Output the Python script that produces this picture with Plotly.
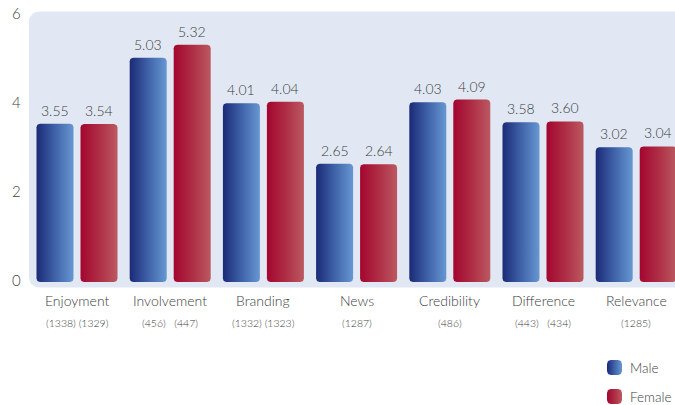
import numpy as np
import plotly.graph_objects as go

# ---- data ----
categories = ["Enjoyment", "Involvement", "Branding", "News", "Credibility", "Difference", "Relevance"]
male = [3.55, 5.03, 4.01, 2.65, 4.03, 3.58, 3.02]
female = [3.54, 5.32, 4.04, 2.64, 4.09, 3.60, 3.04]
sample_sizes = ["(1338) (1329)", "(456)   (447)", "(1332) (1323)", "(1287)", "(486)", "(443)   (434)", "(1285)"]
y_ticks = [0, 2, 4, 6]
series_names = ["Male", "Female"]

# ---- geometry (pixel scale of the full-figure plot area) ----
W, H = 675, 405
PX_X = 93.2          # pixels per category step
X0_PX = 77.0         # pixel of first category centre
PX_Y = 44.6          # pixels per unit on the value axis
Y0_PX = 282.0        # pixel row of value 0

def px_to_x(p):
    return (p - X0_PX) / PX_X

def px_to_y(p):
    return (Y0_PX - p) / PX_Y

x_range = [px_to_x(0), px_to_x(W)]
y_range = [px_to_y(H), px_to_y(0)]

BAR_W = 37 / PX_X
OFFSET = 22 / PX_X
RADIUS_PX = 3.5

GRAD_MALE = [[0, "#1b2a76"], [0.5, "#3f62a8"], [1, "#6797d2"]]
GRAD_FEMALE = [[0, "#a3062f"], [0.5, "#ae2d45"], [1, "#bb5961"]]
TEXT_COLOR = "#3e3e3e"
FONT = "Lato"
WEIGHT = 300


def rounded_rect(x0, x1, y0, y1, r_px):
    """Closed outline of a rectangle with rounded corners, in data units."""
    rx = r_px / PX_X
    ry = r_px / PX_Y
    xs, ys = [], []
    # bottom-left, bottom-right, top-right, top-left corners
    corners = [
        (x0 + rx, y0 + ry, np.pi, 3 * np.pi / 2),
        (x1 - rx, y0 + ry, 3 * np.pi / 2, 2 * np.pi),
        (x1 - rx, y1 - ry, 0, np.pi / 2),
        (x0 + rx, y1 - ry, np.pi / 2, np.pi),
    ]
    for cx, cy, a0, a1 in corners:
        a = np.linspace(a0, a1, 8)
        xs.extend(cx + rx * np.cos(a))
        ys.extend(cy + ry * np.sin(a))
    xs.append(xs[0])
    ys.append(ys[0])
    return xs, ys


def font(size):
    return dict(size=size, color=TEXT_COLOR, family=FONT, weight=WEIGHT)


fig = go.Figure()

# panel background with rounded left corners
bx0, bx1 = px_to_x(29), px_to_x(720)
by0, by1 = px_to_y(287.5), px_to_y(11.5)
bxs, bys = rounded_rect(bx0, bx1, by0, by1, 10)
fig.add_trace(go.Scatter(x=bxs, y=bys, mode="lines", fill="toself",
                         fillcolor="#e1e8f3", line=dict(width=0),
                         hoverinfo="skip", showlegend=False))

annotations = []
for i, cat in enumerate(categories):
    for vals, sign, grad, name in ((male, -1, GRAD_MALE, series_names[0]),
                                   (female, 1, GRAD_FEMALE, series_names[1])):
        v = vals[i]
        xc = i + sign * OFFSET
        xs, ys = rounded_rect(xc - BAR_W / 2, xc + BAR_W / 2, 0, v, RADIUS_PX)
        fig.add_trace(go.Scatter(
            x=xs, y=ys, mode="lines", fill="toself",
            fillgradient=dict(type="horizontal", colorscale=grad),
            line=dict(width=0), name=name, showlegend=False,
            hoverinfo="skip"))
        annotations.append(dict(x=xc, y=v, text=f"{v:.2f}", showarrow=False,
                                yanchor="bottom", yshift=3, font=font(14)))
    annotations.append(dict(x=i, y=px_to_y(300), text=cat, showarrow=False,
                            yanchor="middle", font=font(14)))
    annotations.append(dict(x=i, y=px_to_y(322.5), text=sample_sizes[i], showarrow=False,
                            yanchor="middle", font=font(10.5)))

# legend keys
for k, (name, grad) in enumerate(zip(series_names, (GRAD_MALE, GRAD_FEMALE))):
    top = 360 + 29 * k
    xs, ys = rounded_rect(px_to_x(607), px_to_x(622), px_to_y(top + 15), px_to_y(top), 4)
    fig.add_trace(go.Scatter(x=xs, y=ys, mode="lines", fill="toself",
                             fillgradient=dict(type="horizontal", colorscale=grad),
                             line=dict(width=0), showlegend=False, hoverinfo="skip"))
    annotations.append(dict(x=px_to_x(628), y=px_to_y(top + 7.5), text=name,
                            showarrow=False, xanchor="left", yanchor="middle",
                            font=font(13.5)))

fig.update_layout(
    width=W, height=H,
    margin=dict(l=0, r=0, t=0, b=0),
    paper_bgcolor="white", plot_bgcolor="white",
    showlegend=False,
    annotations=annotations,
    xaxis=dict(range=x_range, visible=False, fixedrange=True),
    yaxis=dict(range=y_range, tickvals=y_ticks, ticktext=[str(t) for t in y_ticks],
               showgrid=False, zeroline=False, showline=False, ticks="",
               ticklabelposition="inside", ticklabelstandoff=9, ticklabelshift=-1,
               tickfont=font(15), fixedrange=True),
)

fig.write_html("out.html")
